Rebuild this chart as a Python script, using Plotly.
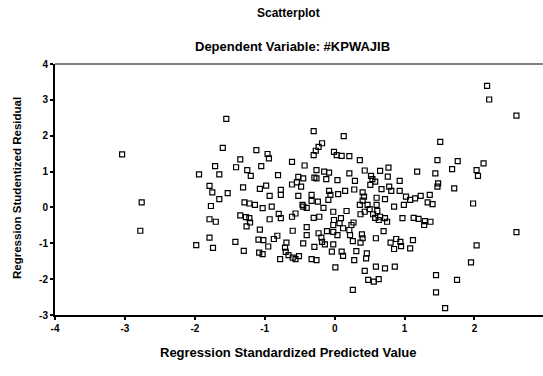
import plotly.graph_objects as go

# Regression Standardized Predicted Value (x) / Studentized Residual (y)
x_vals = [
    -3.04, -2.76, -2.78,
    -1.55, -1.60, -1.12, -0.96, -0.94, -1.35, -1.71, -1.41, -1.05, -1.25, -1.20,
    -1.94, -1.65, -0.81, -0.61, -0.43, -0.52, -0.45, -0.61, -0.48, -0.54, -1.79,
    -1.75, -1.53, -1.65, -1.31, -1.07, -0.98, -0.77, -0.77, -0.93, -0.52, -1.29,
    -1.22, -1.14, -1.03, -0.90, -1.77, -0.45, -0.40, -1.35, -1.27, -1.22, -1.21,
    -1.26, -1.79, -1.70, -0.93, -0.80, -0.77, -0.61, -0.56, -1.07, -0.60, -0.40,
    -0.40, -1.79, -1.74, -1.98, -1.42, -1.30, -1.09, -1.02, -0.87, -0.82, -0.95,
    -1.08, -1.03, -0.69, -0.71, -0.70, -0.66, -0.60, -0.56, -0.51, -0.78, -0.45,
    -0.30, 0.13, -0.18, -0.23, -0.27, -0.30, -0.01, 0.03, 0.10, 0.21, 0.36, 1.51,
    1.47, 1.76, -0.26, -0.15, -0.08, 0.21, 0.43, 0.65, 0.77, 1.18, 1.44, 1.68,
    -0.29, -0.26, -0.12, 0.04, 0.52, 0.54, 0.76, 0.93, 0.29, 0.51, 0.58, 0.78,
    0.81, 0.93, 0.67, 1.48, 1.47, 1.71, -0.08, -0.06, 0.05, 0.15, 0.28, 0.40,
    0.42, 0.60, 0.72, -0.33, -0.09, 0.40, 0.36, 0.47, 0.60, 0.85, 0.99, 1.02,
    1.08, 1.15, 1.23, 1.36, 1.33, 1.40, -0.46, -0.33, -0.24, -0.16, -0.02, 0.17,
    0.37, 0.43, 0.50, 0.55, 0.61, 0.65, 0.72, 0.75, 0.63, 0.58, 0.97, 1.13, 1.20,
    1.29, 1.37, 1.28, -0.30, -0.22, -0.01, 0.09, -0.02, 0.07, 0.27, 0.24, 0.12,
    -0.11, -0.02, 0.04, 0.21, 0.22, -0.23, -0.19, -0.18, -0.14, -0.02, -0.29,
    0.26, 0.39, 0.40, 0.37, 0.59, 0.70, 0.80, 0.88, 0.94, 0.85, 0.95, 1.12, 1.08,
    -0.04, 0.10, 0.31, 0.46, 0.45, 0.12, -0.33, -0.26, 0.28, 0.01, 0.59, 0.72,
    0.86, 0.43, 0.48, 0.56, 0.63, 0.26, 1.45, 1.75, 1.45, 1.58,
    2.18, 2.21, 2.60, 2.13, 2.03, 2.05, 1.98, 2.60, 2.03, 1.95,
]
y_vals = [
    1.48, 0.14, -0.65,
    2.47, 1.66, 1.60, 1.49, 1.37, 1.34, 1.15, 1.12, 1.15, 1.04, 0.88,
    0.92, 0.92, 0.90, 1.27, 1.17, 0.85, 0.81, 0.64, 0.58, 0.70, 0.60,
    0.42, 0.40, 0.23, 0.56, 0.52, 0.61, 0.49, 0.35, 0.32, 0.32, 0.14,
    0.11, 0.07, -0.02, 0.02, 0.04, 0.02, -0.01, -0.22, -0.27, -0.30, -0.42,
    -0.53, -0.33, -0.40, -0.33, -0.18, -0.30, -0.26, -0.17, -0.62, -0.65, -0.55,
    -0.77, -0.84, -1.13, -1.05, -0.96, -1.21, -0.90, -0.91, -0.88, -0.79, -1.09,
    -1.26, -1.30, -0.98, -1.12, -1.24, -1.33, -1.40, -1.44, -1.36, -1.44, -1.00,
    2.13, 1.99, 1.79, 1.69, 1.58, 1.46, 1.55, 1.46, 1.44, 1.43, 1.32, 1.83,
    1.32, 1.29, 1.04, 1.00, 0.97, 0.95, 1.03, 1.02, 1.11, 1.00, 0.95, 1.07,
    0.83, 0.81, 0.79, 0.76, 0.88, 0.79, 0.86, 0.74, 0.74, 0.63, 0.72, 0.58,
    0.46, 0.46, 0.51, 0.67, 0.58, 0.53, 0.46, 0.35, 0.37, 0.46, 0.50, 0.42,
    0.30, 0.27, 0.23, 0.35, 0.21, 0.19, 0.07, 0.07, 0.07, 0.02, 0.07, 0.30,
    0.21, 0.25, 0.32, 0.35, 0.14, 0.09, 0.07, 0.18, 0.16, -0.01, -0.12, -0.10,
    -0.19, -0.12, -0.05, -0.19, -0.10, -0.26, -0.30, -0.40, -0.35, -0.29, -0.30, -0.29, -0.32,
    -0.38, -0.40, -0.49, -0.29, -0.26, -0.35, -0.30, -0.49, -0.44, -0.42, -0.49, -0.58,
    -0.66, -0.68, -0.77, -0.63, -0.77, -0.72, -0.84, -0.96, -1.03, -1.03, -1.10,
    -0.94, -0.75, -0.86, -0.98, -0.86, -0.66, -0.98, -0.88, -0.96, -1.16, -1.08, -0.91, -1.14,
    -1.23, -1.23, -1.22, -1.28, -1.42, -1.35, -1.44, -1.47, -1.47, -1.67, -1.65, -1.70,
    -1.65, -1.77, -2.02, -2.07, -2.00, -2.30, -1.89, -2.02, -2.37, -2.81,
    3.39, 3.01, 2.56, 1.23, 1.04, 0.88, 0.11, -0.69, -1.06, -1.53,
]

x_ticks = [-4, -3, -2, -1, 0, 1, 2, 3]
y_ticks = [-3, -2, -1, 0, 1, 2, 3, 4]

FONT = "Liberation Sans, Arial, sans-serif"

fig = go.Figure()
fig.add_trace(go.Scatter(
    x=x_vals, y=y_vals, mode="markers",
    marker=dict(symbol="square-open", size=5, color="black", line=dict(width=1.2, color="black")),
    showlegend=False, cliponaxis=False, hoverinfo="skip",
))

fig.update_layout(
    template="none",
    width=543, height=376,
    margin=dict(l=55, r=0, t=64, b=61),
    paper_bgcolor="white", plot_bgcolor="white",
    font=dict(family=FONT, color="black"),
    xaxis=dict(
        range=[-4, 2.98], showgrid=False, zeroline=False,
        showline=True, linecolor="black", linewidth=2,
        ticks="outside", ticklen=3, tickwidth=2, tickcolor="black",
        tickvals=x_ticks, ticktext=[f"<b>{t}</b>" for t in x_ticks],
        tickfont=dict(size=10, family=FONT, color="black"), fixedrange=True,
    ),
    yaxis=dict(
        range=[-3, 4], showgrid=False, zeroline=False,
        showline=True, linecolor="black", linewidth=2,
        ticks="outside", ticklen=3, tickwidth=2, tickcolor="black",
        tickvals=y_ticks, ticktext=[f"<b>{t}</b>" for t in y_ticks],
        tickfont=dict(size=10, family=FONT, color="black"), fixedrange=True,
    ),
    shapes=[dict(type="line", xref="paper", yref="paper", x0=0, x1=1, y0=1, y1=1,
                 line=dict(color="black", width=1.2))],
    annotations=[
        dict(text="<b>Scatterplot</b>", xref="paper", yref="paper", x=(288-55)/488, y=1 + (64-13)/251,
             showarrow=False, font=dict(size=12, family=FONT, color="black"),
             xanchor="center", yanchor="middle"),
        dict(text="<b>Dependent Variable: #KPWAJIB</b>", xref="paper", yref="paper", x=(292-55)/488,
             y=1 + (64-46)/251, showarrow=False, font=dict(size=13, family=FONT, color="black"),
             xanchor="center", yanchor="middle"),
        dict(text="<b>Regression Standardized Predicted Value</b>", xref="paper", yref="paper",
             x=(288-55)/488, y=-(352-315)/251, showarrow=False,
             font=dict(size=13, family=FONT, color="black"),
             xanchor="center", yanchor="middle"),
        dict(text="<b>Regression Studentized Residual</b>", xref="paper", yref="paper",
             x=-(55-17)/488, y=(315-188)/251, showarrow=False, textangle=-90,
             font=dict(size=11.5, family=FONT, color="black"), xanchor="center", yanchor="middle"),
    ],
)

fig.write_html(
    "out.html",
    config={"displayModeBar": False, "staticPlot": True},
    post_script="document.body.style.margin='0';document.body.style.overflow='hidden';",
)
